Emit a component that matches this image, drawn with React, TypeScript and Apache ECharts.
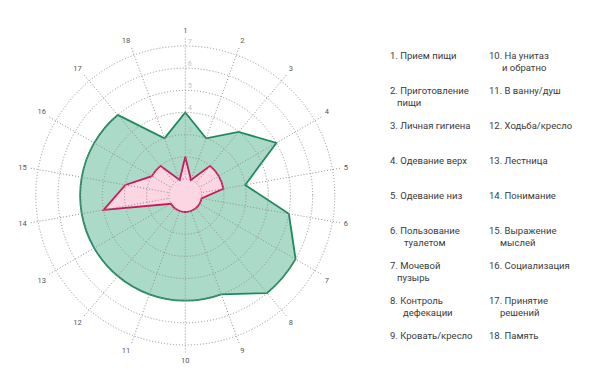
import React, { useEffect, useRef } from "react";
import * as echarts from "echarts";

// ---- data ----
const axisIds = ["1","2","3","4","5","6","7","8","9","10","11","12","13","14","15","16","17","18"];
const legendNames = [
  "Прием пищи",
  "Приготовление\nпищи",
  "Личная гигиена",
  "Одевание верх",
  "Одевание низ",
  "Пользование\nтуалетом",
  "Мочевой\nпузырь",
  "Контроль\nдефекации",
  "Кровать/кресло",
  "На унитаз\nи обратно",
  "В ванну/душ",
  "Ходьба/кресло",
  "Лестница",
  "Понимание",
  "Выражение\nмыслей",
  "Социализация",
  "Принятие\nрешений",
  "Память",
];
const greenValues = [4, 3, 4, 5, 3, 5, 6, 6, 5, 5, 5, 5, 5, 5, 5, 5, 5, 3];
const pinkValues = [2, 1, 2, 2, 2, 1, 1, 1, 1, 1, 1, 1, 1, 4, 3, 2, 2, 1];
const ringValues = [2, 3, 4, 5, 6, 7];
const ringLabels = ["2", "3", "4", "5", "6", "7"];
const scaleMin = 1;
const scaleMax = 7;

// ---- layout ----
const CX = 185.3;
const CY = 195.5;
const R_IN = 16.5;
const R_OUT = 149.5;
const R_SPOKE = 157;
const legendX = [390, 489];
const legendY0 = 55.5;
const legendStep = 35;
const legendLineH = 12;
const legendIndent: Record<number, number> = { 1: 7, 5: 14, 6: 7, 7: 13, 9: 13, 14: 11, 16: 11 };

function shapeSeries(values: number[], fill: string, stroke: string, z: number) {
  const n = values.length;
  return {
    type: "custom",
    coordinateSystem: "polar",
    polarIndex: 0,
    z,
    silent: true,
    data: [[scaleMin, 0]],
    renderItem: (params: any, api: any) => {
      const cs = params.coordSys;
      const pts = values.map((v, i) => api.coord([v, i]));
      let d = `M${pts[0][0]},${pts[0][1]}`;
      for (let i = 1; i <= n; i++) {
        const a = values[i - 1];
        const b = values[i % n];
        const p = pts[i % n];
        if (a === b) {
          const rr = Math.hypot(p[0] - cs.cx, p[1] - cs.cy);
          d += ` A${rr},${rr} 0 0 1 ${p[0]},${p[1]}`;
        } else {
          d += ` L${p[0]},${p[1]}`;
        }
      }
      d += " Z";
      return {
        type: "path",
        shape: { pathData: d },
        style: { fill, stroke, lineWidth: 1.8, lineJoin: "miter" },
      };
    },
  };
}

export default function App() {
  const ref = useRef<HTMLDivElement>(null);
  useEffect(() => {
    if (!ref.current) return;
    const chart = echarts.init(ref.current, null, { renderer: "svg" });
    const dotted = { type: [1, 2] as any, color: "#8f8f8f", width: 1 };
    const n = axisIds.length;

    const graphics: any[] = [];
    legendNames.forEach((name, i) => {
      const col = i < 9 ? 0 : 1;
      const row = i % 9;
      const lines = name.split("\n");
      const y = legendY0 + row * legendStep;
      const x = legendX[col];
      graphics.push({
        type: "text",
        x,
        y,
        style: {
          text: `${axisIds[i]}. ${lines[0]}`,
          fill: "#3a3a3a",
          font: '9.5px "Roboto"',
          verticalAlign: "middle",
          align: "left",
        },
      });
      if (lines[1]) {
        graphics.push({
          type: "text",
          x: x + (legendIndent[i] ?? 8),
          y: y + legendLineH,
          style: {
            text: lines[1],
            fill: "#3a3a3a",
            font: '9.5px "Roboto"',
            verticalAlign: "middle",
            align: "left",
          },
        });
      }
    });

    chart.setOption({
      animation: false,
      polar: [
        { center: [CX, CY], radius: [R_IN, R_OUT] },
        { center: [CX, CY], radius: [R_IN, R_SPOKE] },
      ],
      angleAxis: [
        {
          polarIndex: 0,
          type: "value",
          min: 0,
          max: n,
          interval: 1,
          startAngle: 90,
          axisLine: { show: false },
          axisTick: { show: false },
          axisLabel: { show: false },
          splitLine: { show: false },
        },
        {
          polarIndex: 1,
          type: "value",
          min: 0,
          max: n,
          interval: 1,
          startAngle: 90,
          z: 3,
          axisLine: { show: false },
          axisTick: { show: false },
          axisLabel: {
            show: true,
            margin: 4,
            color: "#555",
            fontSize: 7.5,
            fontFamily: "Roboto",
            formatter: (v: number) => axisIds[v] ?? "",
          },
          splitLine: { show: true, lineStyle: dotted },
        },
      ],
      radiusAxis: [
        {
          polarIndex: 0,
          type: "value",
          min: scaleMin,
          max: scaleMax,
          interval: 1,
          z: 3,
          axisLine: { show: false },
          axisTick: { show: false },
          axisLabel: { show: false },
          splitLine: { show: true, lineStyle: dotted },
        },
        {
          polarIndex: 1,
          type: "value",
          min: 0,
          max: 1,
          axisLine: { show: false },
          axisTick: { show: false },
          axisLabel: { show: false },
          splitLine: { show: false },
        },
      ],
      series: [
        shapeSeries(greenValues, "#acdac8", "#1d8a5e", 1),
        shapeSeries(pinkValues, "#fcd6e3", "#c8195c", 2),
        {
          type: "scatter",
          coordinateSystem: "polar",
          polarIndex: 0,
          z: 4,
          symbolSize: 0,
          silent: true,
          data: ringValues.map((v, i) => ({ value: [v, 0], name: ringLabels[i] })),
          label: {
            show: true,
            position: "right",
            distance: 2.5,
            offset: [0, -5],
            color: "#b5b5b5",
            fontSize: 7.5,
            fontFamily: "Roboto",
            formatter: (p: any) => p.name,
          },
        },
      ],
      graphic: graphics,
    });
    return () => chart.dispose();
  }, []);
  return (
    <div
      ref={ref}
      style={{ position: "fixed", left: 0, top: 0, width: 600, height: 387, background: "#fff" }}
    />
  );
}
